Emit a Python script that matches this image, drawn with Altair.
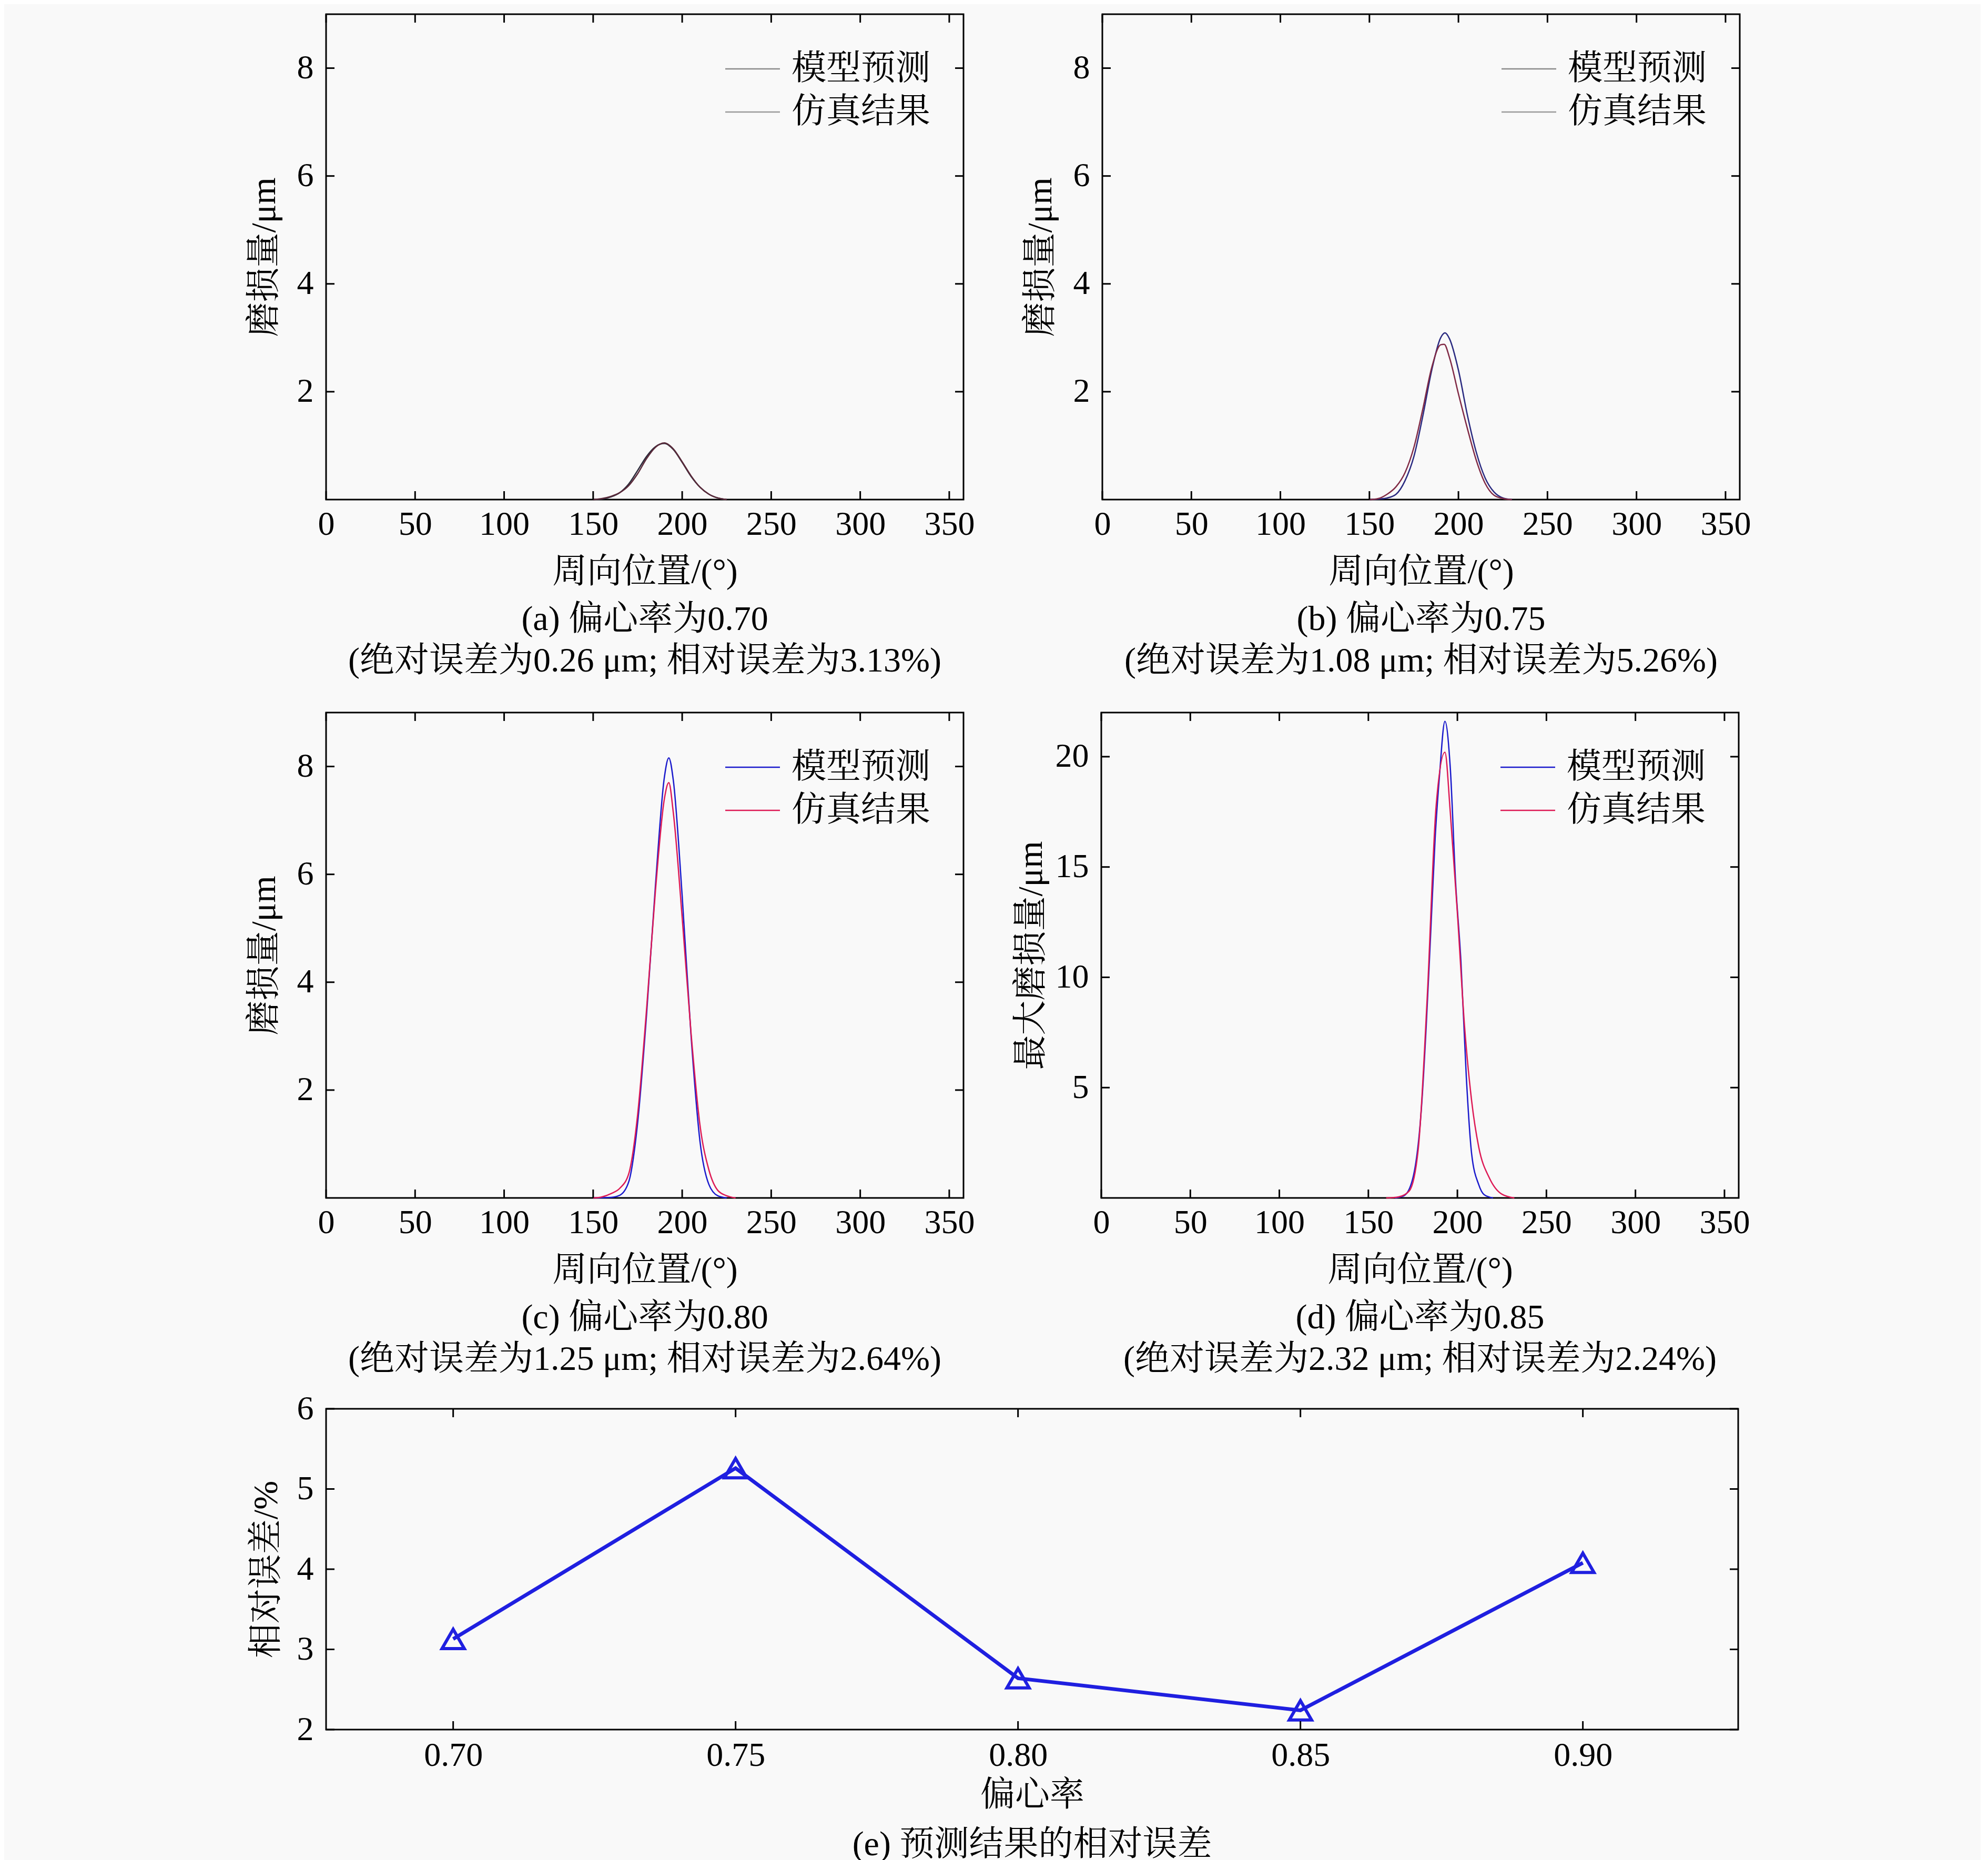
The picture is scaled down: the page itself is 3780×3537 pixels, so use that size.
import altair as alt
import pandas as pd

FONT = "Liberation Serif, Noto Serif CJK SC, Noto Sans CJK SC, serif"
FS = 64
TFS = 66

# ---------------- data ----------------
# (a) eccentricity 0.70
a_model_x = [150, 155, 160, 165, 170, 175, 180, 185, 190, 195, 200, 205, 210, 215, 220, 225]
a_model_y = [0, 0.01, 0.05, 0.13, 0.29, 0.54, 0.80, 0.98, 1.04, 0.93, 0.69, 0.43, 0.23, 0.10, 0.03, 0.0]
a_sim_x = [150, 155, 160, 165, 170, 175, 180, 185, 190, 195, 200, 205, 210, 215, 220, 225]
a_sim_y = [0, 0.02, 0.06, 0.13, 0.26, 0.48, 0.76, 0.97, 1.05, 0.94, 0.70, 0.44, 0.23, 0.10, 0.03, 0.0]

# (b) eccentricity 0.75
b_model_x = [150, 155, 160, 165, 170, 175, 180, 185, 190, 192.5, 195, 200, 205, 210, 215, 220, 225, 230]
b_model_y = [0, 0.01, 0.03, 0.10, 0.35, 0.80, 1.55, 2.40, 3.00, 3.09, 2.98, 2.40, 1.57, 0.88, 0.40, 0.14, 0.03, 0]
b_sim_x = [150, 155, 160, 165, 170, 175, 180, 185, 190, 192, 195, 200, 205, 210, 215, 220, 225, 230]
b_sim_y = [0, 0.02, 0.10, 0.24, 0.50, 0.97, 1.68, 2.45, 2.87, 2.88, 2.63, 1.96, 1.32, 0.73, 0.30, 0.08, 0.02, 0]

# (c) eccentricity 0.80
c_model_x = [150, 160, 165, 170, 175, 180, 185, 190, 192.5, 195, 200, 205, 210, 215, 220, 225]
c_model_y = [0, 0.01, 0.05, 0.30, 1.40, 3.40, 5.80, 7.80, 8.16, 7.75, 5.60, 3.00, 1.05, 0.25, 0.04, 0]
c_sim_x = [150, 155, 160, 165, 170, 175, 180, 185, 190, 192.5, 195, 200, 205, 210, 215, 220, 225, 230]
c_sim_y = [0, 0.02, 0.08, 0.18, 0.45, 1.55, 3.50, 5.70, 7.40, 7.70, 7.15, 5.20, 3.05, 1.35, 0.52, 0.14, 0.04, 0]

# (d) eccentricity 0.85
d_model_x = [165, 170, 175, 180, 182.5, 185, 187.5, 190, 193, 196, 199, 202, 205, 208, 212, 215, 220]
d_model_y = [0, 0.10, 0.90, 4.30, 7.80, 12.0, 16.3, 19.2, 21.6, 19.5, 14.3, 10.7, 5.5, 2.0, 0.6, 0.15, 0]
d_sim_x = [160, 167, 173, 178, 183, 188, 193, 196, 200, 204, 208, 212, 218, 225, 232]
d_sim_y = [0, 0.05, 0.32, 2.2, 9.0, 17.7, 20.2, 17.5, 12.9, 7.8, 4.4, 2.3, 0.9, 0.17, 0]

# (e) relative error vs eccentricity
e_ecc = [0.70, 0.75, 0.80, 0.85, 0.90]
e_err = [3.13, 5.26, 2.64, 2.24, 4.08]

x_ticks = [0, 50, 100, 150, 200, 250, 300, 350]
y_ticks_wear = [2, 4, 6, 8]
y_ticks_d = [5, 10, 15, 20]
e_x_ticks = [0.70, 0.75, 0.80, 0.85, 0.90]
e_y_ticks = [2, 3, 4, 5, 6]

legend_labels = ["模型预测", "仿真结果"]

W, H = 1212, 923
TL = 16  # inner tick length


def inner_ticks(xvals, yvals, xenc, yenc, w, h):
    dx = pd.DataFrame({"x": xvals})
    dy = pd.DataFrame({"y": yvals})
    r = dict(color="black", strokeWidth=3)
    return [
        alt.Chart(dx).mark_rule(**r).encode(x=xenc, y=alt.value(h), y2=alt.value(h - TL)),
        alt.Chart(dx).mark_rule(**r).encode(x=xenc, y=alt.value(0), y2=alt.value(TL)),
        alt.Chart(dy).mark_rule(**r).encode(y=yenc, x=alt.value(0), x2=alt.value(TL)),
        alt.Chart(dy).mark_rule(**r).encode(y=yenc, x=alt.value(w - TL), x2=alt.value(w)),
    ]


def legend_layers(lc1, lc2):
    one = pd.DataFrame({"k": [0]})
    out = []
    for i, (lab, col) in enumerate(zip(legend_labels, [lc1, lc2])):
        yy = 104 + i * 82
        out.append(alt.Chart(one).mark_rule(color=col, strokeWidth=2.5).encode(
            x=alt.value(759), x2=alt.value(863), y=alt.value(yy)))
        out.append(alt.Chart(one).mark_text(text=lab, align="left", baseline="middle",
                                            font=FONT, fontSize=TFS, color="black").encode(
            x=alt.value(885), y=alt.value(yy)))
    return out


def wear_panel(mx, my, sx, sy, ydom, yticks, ytitle, lines, c1, c2, lc1, lc2, ytp):
    xs = alt.Scale(domain=[0, 358], nice=False, zero=False)
    ys = alt.Scale(domain=ydom, nice=False, zero=False)
    xaxis = alt.Axis(values=x_ticks, ticks=False, domain=False, grid=False, labelFlush=False,
                     labelOverlap=False, labelPadding=15, titlePadding=26, title="周向位置/(°)")
    yaxis = alt.Axis(values=yticks, ticks=False, domain=False, grid=False, labelFlush=False,
                     labelOverlap=False, labelPadding=24, titlePadding=ytp, title=ytitle)
    xenc = alt.X("x:Q", scale=xs, axis=xaxis)
    yenc = alt.Y("y:Q", scale=ys, axis=yaxis)
    dm = pd.DataFrame({"x": mx, "y": my})
    ds = pd.DataFrame({"x": sx, "y": sy})
    lm = alt.Chart(dm).mark_line(color=c1, strokeWidth=2.5, interpolate="monotone").encode(x=xenc, y=yenc)
    ls = alt.Chart(ds).mark_line(color=c2, strokeWidth=2.5, interpolate="monotone").encode(x=xenc, y=yenc)
    layers = [lm, ls] + inner_ticks(x_ticks, yticks, xenc, yenc, W, H) + legend_layers(lc1, lc2)
    return alt.layer(*layers).properties(
        width=W, height=H,
        title=alt.TitleParams(text=lines, orient="bottom", anchor="middle", frame="group",
                              font=FONT, fontSize=TFS, fontWeight="normal", color="black",
                              offset=26, lineHeight=79))


pa = wear_panel(a_model_x, a_model_y, a_sim_x, a_sim_y, [0, 9], y_ticks_wear, "磨损量/μm",
                ["(a) 偏心率为0.70", "(绝对误差为0.26 μm; 相对误差为3.13%)"],
                "#2a2a3a", "#5a2a3a", "#8a8a8a", "#9a9a9a", 28)
pb = wear_panel(b_model_x, b_model_y, b_sim_x, b_sim_y, [0, 9], y_ticks_wear, "磨损量/μm",
                ["(b) 偏心率为0.75", "(绝对误差为1.08 μm; 相对误差为5.26%)"],
                "#2a2a80", "#802a45", "#8a8a8a", "#9a9a9a", 28)
pc = wear_panel(c_model_x, c_model_y, c_sim_x, c_sim_y, [0, 9], y_ticks_wear, "磨损量/μm",
                ["(c) 偏心率为0.80", "(绝对误差为1.25 μm; 相对误差为2.64%)"],
                "#1a1acc", "#dd1a55", "#1a1acc", "#dd1a55", 28)
pd_ = wear_panel(d_model_x, d_model_y, d_sim_x, d_sim_y, [0, 22], y_ticks_d, "最大磨损量/μm",
                 ["(d) 偏心率为0.85", "(绝对误差为2.32 μm; 相对误差为2.24%)"],
                 "#1a1acc", "#dd1a55", "#1a1acc", "#dd1a55", 12)

# panel (e)
WE, HE = 2685, 610
exs = alt.Scale(domain=[0.6775, 0.9275], nice=False, zero=False)
eys = alt.Scale(domain=[2, 6], nice=False, zero=False)
de = pd.DataFrame({"x": e_ecc, "y": e_err})
BLUE = "#1f1fe0"
exenc = alt.X("x:Q", scale=exs, axis=alt.Axis(values=e_x_ticks, format=".2f", ticks=False, domain=False,
                                              grid=False, labelFlush=False, labelOverlap=False,
                                              labelPadding=17, titlePadding=11, title="偏心率"))
eyenc = alt.Y("y:Q", scale=eys, axis=alt.Axis(values=e_y_ticks, ticks=False, domain=False, grid=False,
                                              labelFlush=False, labelOverlap=False, labelPadding=24,
                                              titlePadding=24, title="相对误差/%"))
e_line = alt.Chart(de).mark_line(color=BLUE, strokeWidth=7).encode(x=exenc, y=eyenc)
e_pts = alt.Chart(de).mark_point(shape="triangle-up", filled=False, size=1800, strokeWidth=6,
                                 color=BLUE, opacity=1).encode(x=exenc, y=eyenc)
pe = alt.layer(e_line, e_pts, *inner_ticks(e_x_ticks, e_y_ticks, exenc, eyenc, WE, HE)).properties(
    width=WE, height=HE,
    title=alt.TitleParams(text="(e) 预测结果的相对误差", orient="bottom", anchor="middle", frame="group",
                          font=FONT, fontSize=TFS, fontWeight="normal", color="black", offset=30))

row1 = alt.hconcat(pa, pb, spacing=88)
row2 = alt.hconcat(pc, pd_, spacing=70)
top = alt.vconcat(row1, row2, spacing=60)
chart = alt.vconcat(top, pe, spacing=25).properties(
    padding={"left": 459, "top": 16, "right": 435, "bottom": 5},
    background="#f9f9f9",
).configure_view(stroke="black", strokeWidth=3).configure_axis(
    labelFont=FONT, labelFontSize=FS, labelColor="black",
    titleFont=FONT, titleFontSize=TFS, titleFontWeight="normal", titleColor="black",
)

chart.save("out.html", embed_options={"renderer": "svg", "actions": False})
